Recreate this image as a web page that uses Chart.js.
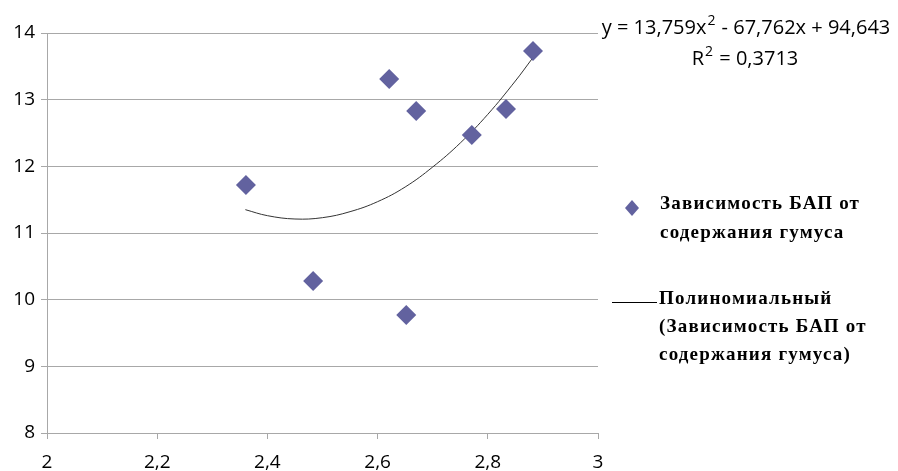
<!DOCTYPE html>
<html>
<head>
<meta charset="utf-8">
<script src="https://cdn.jsdelivr.net/npm/chart.js@4.4.1/dist/chart.umd.min.js"></script>
<style>
  html, body { margin: 0; padding: 0; background: #fff; }
  #wrap { width: 898px; height: 471px; position: relative; }
</style>
</head>
<body>
<div id="wrap"><canvas id="chart"></canvas></div>
<script>
// humus content (x) vs BAP (y)
var humusX = [2.361, 2.483, 2.621, 2.652, 2.670, 2.771, 2.833, 2.882];
var bapY   = [11.72, 10.28, 13.31, 9.77, 12.83, 12.47, 12.86, 13.73];

// trend curve
var trendX = [2.36, 2.40, 2.45, 2.50, 2.55, 2.60, 2.65, 2.70, 2.75, 2.80, 2.85, 2.88];
var trendY = [11.35, 11.26, 11.21, 11.23, 11.32, 11.47, 11.69, 11.99, 12.35, 12.78, 13.28, 13.61];

var seriesName = ['Зависимость БАП от', 'содержания гумуса'];
var trendName = ['Полиномиальный', '(Зависимость БАП от', 'содержания гумуса)'];
// equation pieces: [text, superscript?]
var equationParts = [['y = 13,759x', false], ['2', true], [' - 67,762x + 94,643', false]];
var rSquaredParts = [['R', false], ['2', true], [' = 0,3713', false]];

var pointColor = '#62629f';
var gridColor = '#a8a8a8';

var scatterData = humusX.map(function (x, i) { return { x: x, y: bapY[i] }; });
var trendData = trendX.map(function (x, i) { return { x: x, y: trendY[i] }; });

function drawParts(ctx, parts, centerX, baseY) {
    var big = '20px "Open Sans"', small = '14px "Open Sans"';
    var total = 0;
    parts.forEach(function (p) {
        ctx.font = p[1] ? small : big;
        total += ctx.measureText(p[0]).width + (p[1] ? 2 : 0);
    });
    var x = centerX - total / 2;
    parts.forEach(function (p) {
        ctx.font = p[1] ? small : big;
        if (p[1]) {
            ctx.fillText(p[0], x + 1, baseY - 9);
            x += ctx.measureText(p[0]).width + 2;
        } else {
            ctx.fillText(p[0], x, baseY);
            x += ctx.measureText(p[0]).width;
        }
    });
}

// legend + equation drawn on the canvas
var extras = {
    id: 'extras',
    afterDraw: function (chart) {
        var ctx = chart.ctx;
        ctx.save();

        // equation
        ctx.fillStyle = '#000';
        ctx.textAlign = 'left';
        ctx.textBaseline = 'alphabetic';
        drawParts(ctx, equationParts, 746, 34);
        drawParts(ctx, rSquaredParts, 745, 65);

        // series legend
        ctx.fillStyle = pointColor;
        ctx.beginPath();
        ctx.moveTo(632, 200);
        ctx.lineTo(639, 208);
        ctx.lineTo(632, 216);
        ctx.lineTo(625, 208);
        ctx.closePath();
        ctx.fill();

        ctx.fillStyle = '#000';
        ctx.font = 'bold 19px "Liberation Serif"';
        ctx.textBaseline = 'middle';
        ctx.letterSpacing = '1.2px';
        ctx.fillText(seriesName[0], 660, 204);
        ctx.fillText(seriesName[1], 660, 233);

        // trend legend
        ctx.strokeStyle = '#000';
        ctx.lineWidth = 1;
        ctx.beginPath();
        ctx.moveTo(612, 302.5);
        ctx.lineTo(657, 302.5);
        ctx.stroke();
        ctx.fillText(trendName[0], 659, 299);
        ctx.fillText(trendName[1], 659, 327);
        ctx.fillText(trendName[2], 659, 355);

        ctx.restore();
    }
};

var config = {
    type: 'scatter',
    data: {
        datasets: [{
            label: seriesName.join(' '),
            data: scatterData,
            pointStyle: 'rectRot',
            pointRadius: 10,
            pointHoverRadius: 10,
            backgroundColor: pointColor,
            borderColor: pointColor,
            borderWidth: 0
        }, {
            label: trendName.join(' '),
            data: trendData,
            showLine: true,
            tension: 0.4,
            pointRadius: 0,
            borderColor: '#333',
            borderWidth: 1,
            backgroundColor: '#333'
        }]
    },
    options: {
        responsive: false,
        animation: false,
        layout: { padding: { top: 33, right: 300, left: 0, bottom: 0 } },
        plugins: {
            legend: { display: false },
            tooltip: { enabled: false }
        },
        scales: {
            x: {
                type: 'linear',
                min: 2,
                max: 3,
                afterFit: function (scale) { scale.height = 38; },
                ticks: {
                    stepSize: 0.2,
                    color: '#000',
                    font: { family: 'Open Sans', size: 19 },
                    padding: 12,
                    maxRotation: 0,
                    callback: function (v) { return (Math.round(v * 10) / 10).toString().replace('.', ','); }
                },
                grid: {
                    drawOnChartArea: false,
                    drawTicks: true,
                    tickLength: 6,
                    color: gridColor
                },
                border: { color: gridColor }
            },
            y: {
                min: 8,
                max: 14,
                afterFit: function (scale) { scale.width = 47; },
                ticks: {
                    stepSize: 1,
                    color: '#000',
                    font: { family: 'Open Sans', size: 19 },
                    padding: 6
                },
                grid: {
                    color: gridColor,
                    tickLength: 6
                },
                border: { color: gridColor }
            }
        }
    },
    plugins: [extras]
};

window.onload = function () {
    var canvas = document.getElementById('chart');
    canvas.width = 898;
    canvas.height = 471;
    window.myChart = new Chart(canvas.getContext('2d'), config);
};
</script>
</body>
</html>
